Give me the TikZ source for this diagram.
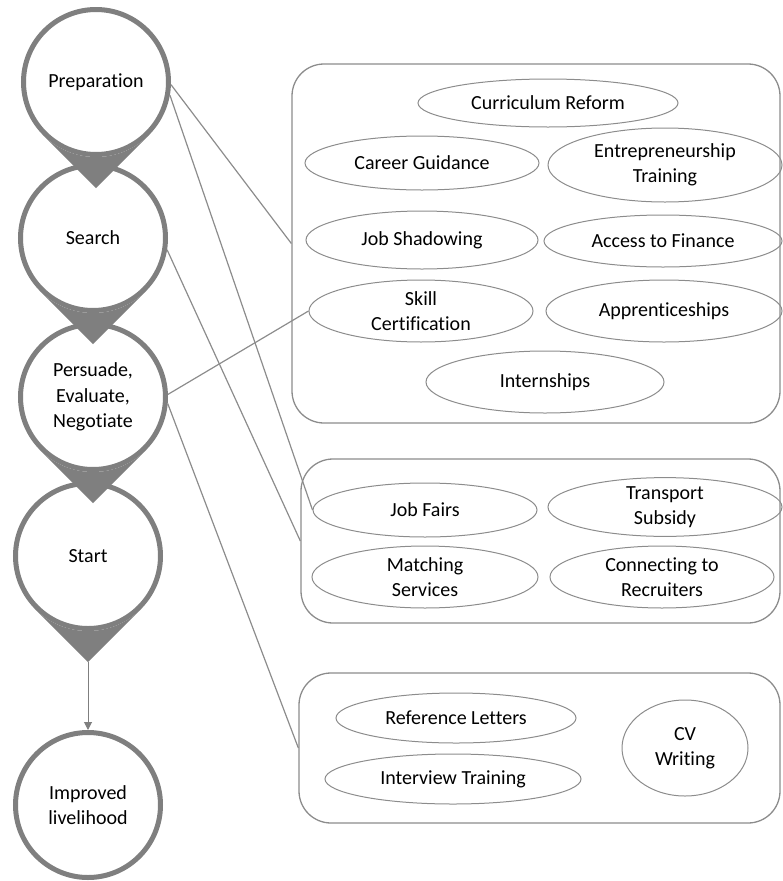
\documentclass[tikz,border=0pt]{standalone}
\usepackage{fontspec}
\setmainfont{Carlito}[Ligatures=NoCommon]
\usepackage{tikz}
\usetikzlibrary{shapes.geometric,arrows.meta}
\definecolor{stagegray}{RGB}{127,127,127}
\definecolor{linegray}{RGB}{140,140,140}

\begin{document}
\begin{tikzpicture}[x=1pt,y=1pt,font=\fontsize{20}{25.5}\selectfont,
    stage/.style={circle,draw=stagegray,fill=white,line width=5pt,minimum size=145pt,inner sep=0pt,align=center},
    measure/.style={ellipse,draw=linegray,line width=1pt,inner sep=0pt,align=center},
    group/.style={draw=linegray,line width=1.3pt,rounded corners=32pt},
    link/.style={draw=linegray,line width=1.2pt}]

\useasboundingbox (0,0) rectangle (782,-881);

% stages of the job search
\node [stage] (prep)   at (96,-82)  {Preparation};
\node [stage] (search) at (93,-238) {Search};
\node [stage] (nego)   at (93,-397) {Persuade,\\Evaluate,\\Negotiate};
\node [stage] (start)  at (88,-556) {Start};
\node [stage] (impr)   at (88,-805) {Improved\\livelihood};

\foreach \n in {prep, search, nego, start}{
    \coordinate (\n-tip) at ([yshift=-106pt]\n.center);
    \fill[stagegray] (\n.-45) -- (\n-tip) -- (\n.-135) arc[start angle=-135, end angle=-45, radius=75pt] -- cycle;
}
\draw[draw=stagegray,line width=1pt,-{Triangle[width=8pt,length=8pt]}] (start-tip) -- (impr.north);

% groups of interventions
\node [group,minimum width=488pt,minimum height=359pt] (prepgroup)   at (536,-243.5) {};
\node [group,minimum width=479pt,minimum height=164pt] (searchgroup) at (540.5,-541) {};
\node [group,minimum width=481pt,minimum height=150pt] (negogroup)   at (539.5,-748) {};

\node [measure,minimum width=260pt,minimum height=48pt] (curric)  at (548,-103) {Curriculum Reform};
\node [measure,minimum width=234pt,minimum height=54pt] (career)  at (422,-163) {Career Guidance};
\node [measure,minimum width=234pt,minimum height=74pt] (entre)   at (665,-165) {Entrepreneurship\\Training};
\node [measure,minimum width=232pt,minimum height=58pt] (shadow)  at (422,-240) {Job Shadowing};
\node [measure,minimum width=238pt,minimum height=52pt] (finance) at (663,-241) {Access to Finance};
\node [measure,minimum width=224pt,minimum height=62pt] (skill)   at (421,-311) {Skill\\Certification};
\node [measure,minimum width=236pt,minimum height=62pt] (appren)  at (664,-311) {Apprenticeships};
\node [measure,minimum width=238pt,minimum height=62pt] (intern)  at (545,-382) {Internships};

\node [measure,minimum width=224pt,minimum height=54pt] (fairs)     at (425,-510) {Job Fairs};
\node [measure,minimum width=234pt,minimum height=58pt] (transport) at (665,-507) {Transport\\Subsidy};
\node [measure,minimum width=226pt,minimum height=62pt] (matching)  at (425,-577) {Matching\\Services};
\node [measure,minimum width=224pt,minimum height=62pt] (recruit)   at (662,-577) {Connecting to\\Recruiters};

\node [measure,minimum width=240pt,minimum height=50pt] (reference) at (456,-718) {Reference Letters};
\node [measure,minimum width=256pt,minimum height=50pt] (interview) at (453,-779) {Interview Training};
\node [measure,minimum width=126pt,minimum height=96pt] (cv)        at (685,-748) {CV\\Writing};

% links from stages to interventions
\draw[link] (prep.-2)   -- (prepgroup.west);
\draw[link] (prep.-10)  -- (fairs.west);
\draw[link] (search.-9) -- (searchgroup.west);
\draw[link] (nego.2)    -- (skill.west);
\draw[link] (nego.-5)   -- (negogroup.west);

\end{tikzpicture}
\end{document}
